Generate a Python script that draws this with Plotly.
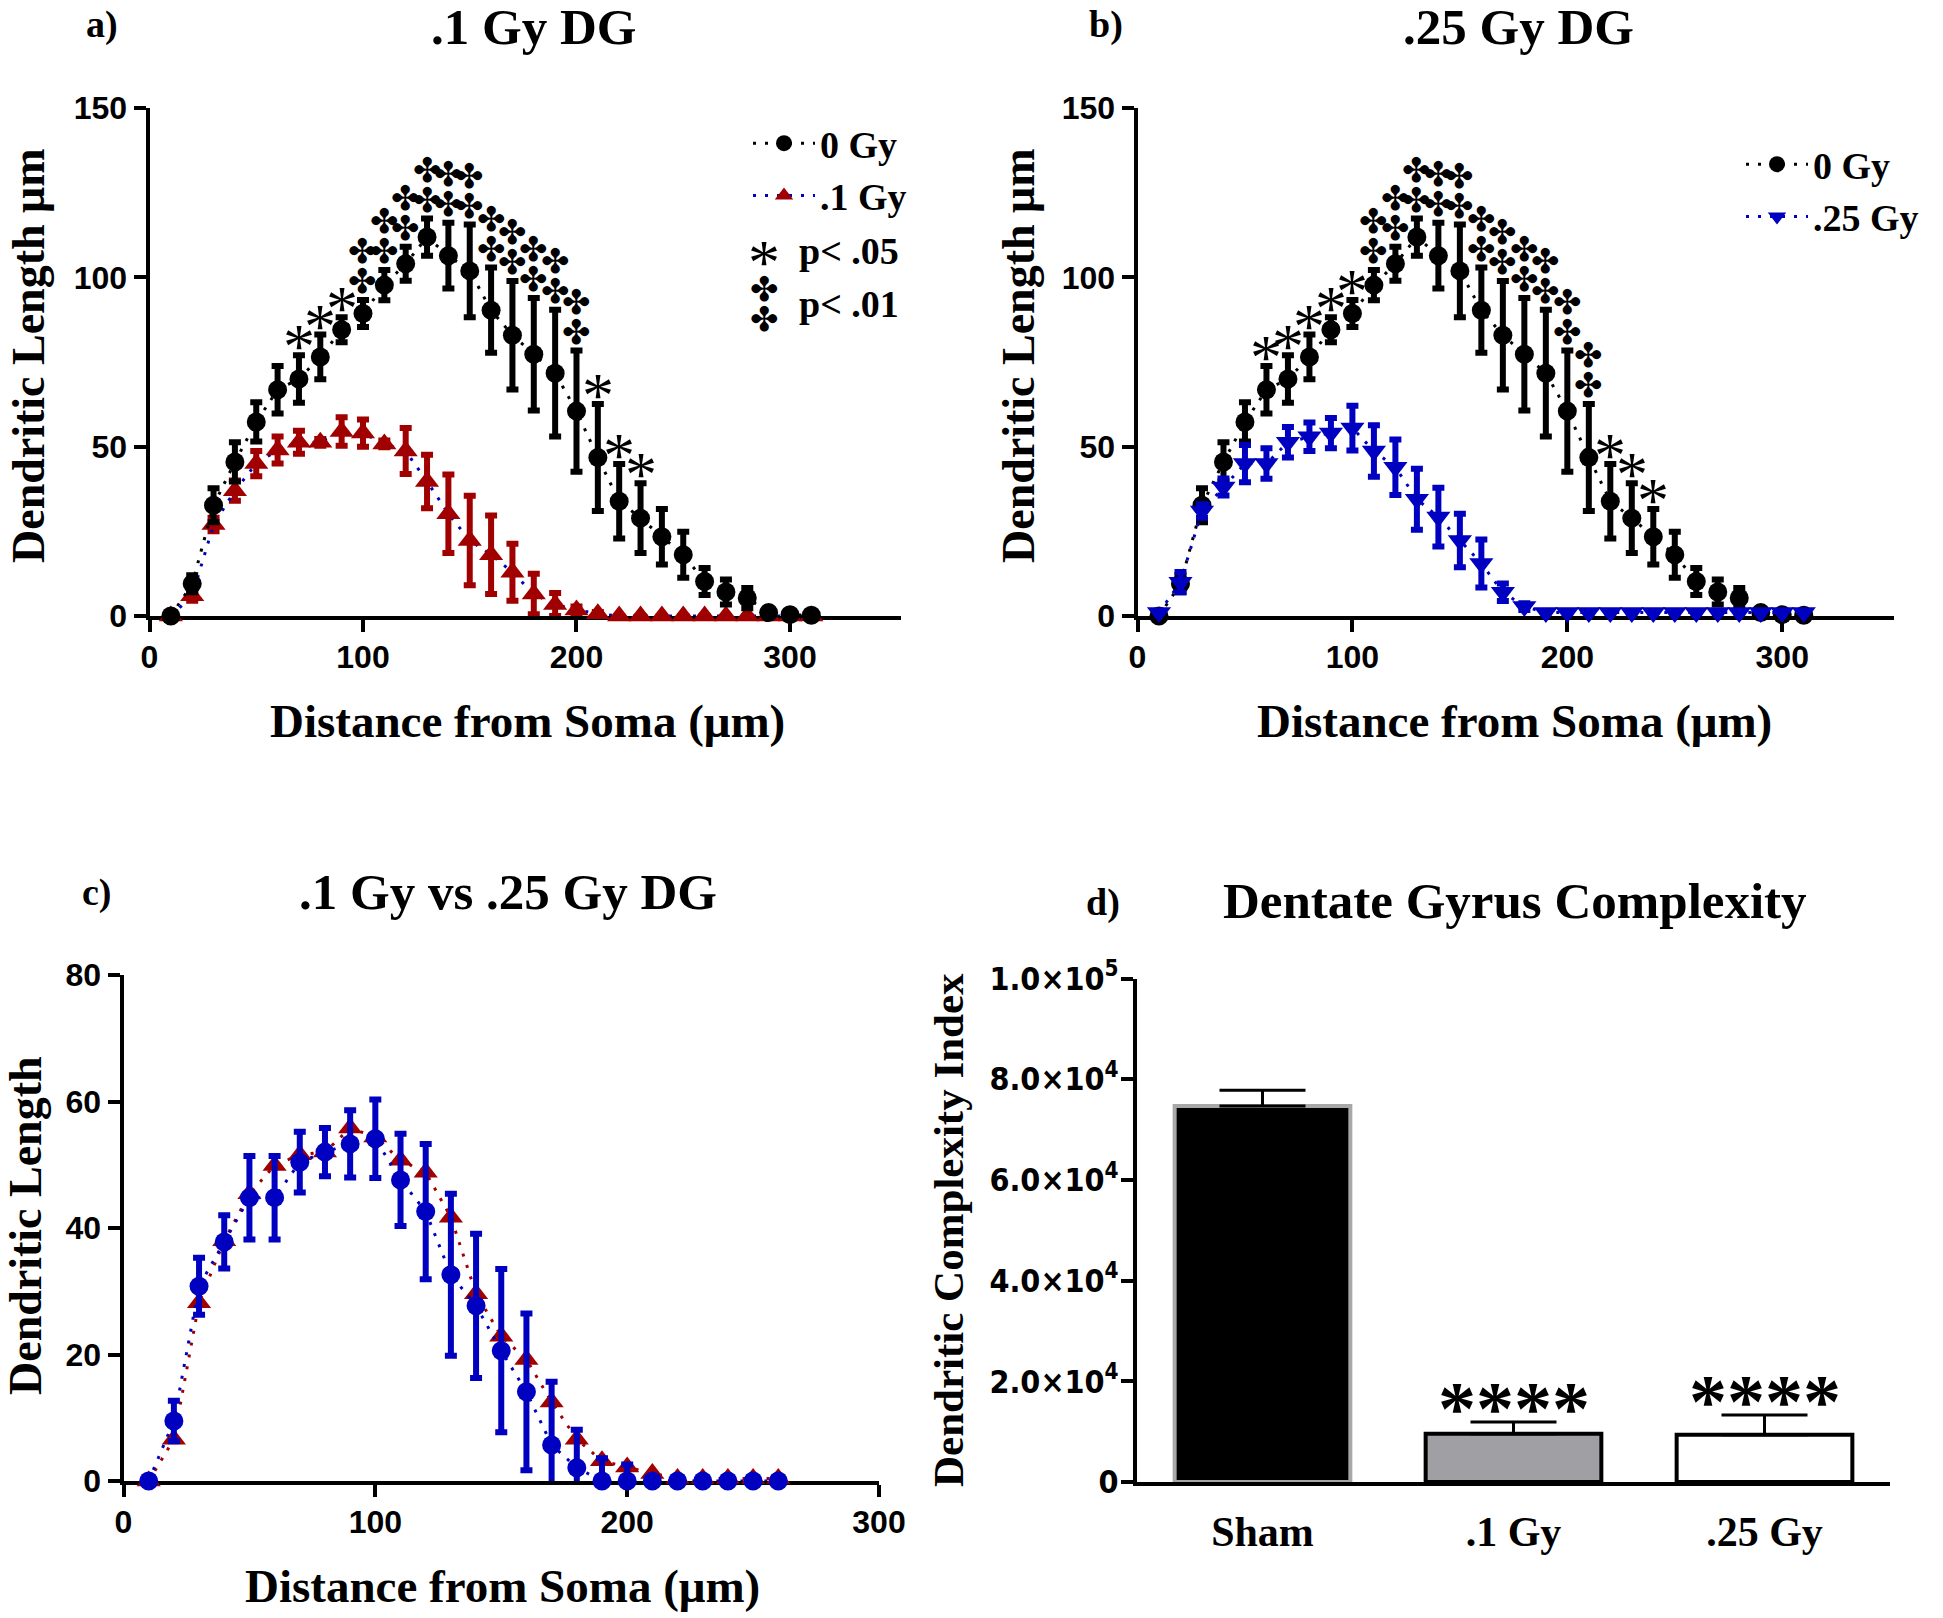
import plotly.graph_objects as go

W, H = 1943, 1618
OFF = 8  # default page margin of the html body

# ---------------- data ----------------
dist_ab = [10, 20, 30, 40, 50, 60, 70, 80, 90, 100, 110, 120, 130, 140, 150, 160,
           170, 180, 190, 200, 210, 220, 230, 240, 250, 260, 270, 280, 290, 300, 310]

ctrl_mean = [0, 9.5, 32.7, 45.5, 57.3, 66.8, 70.0, 76.5, 84.5, 89.3, 97.7, 104.0, 111.9, 106.4,
             101.9, 90.3, 82.9, 77.3, 71.7, 60.5, 46.8, 33.9, 28.9, 23.4, 18.1, 10.2, 7.1, 5.3,
             1.0, 0.4, 0.2]
ctrl_err = [0.5, 2.5, 5.0, 5.8, 5.8, 7.0, 7.0, 6.6, 3.7, 4.0, 4.5, 5.0, 5.5, 9.7, 13.7, 12.6,
            16.0, 16.6, 18.7, 17.9, 15.8, 11.0, 10.3, 8.2, 6.8, 4.0, 3.7, 3.0, 1.0, 0.5, 0.5]

low_a_mean = [0, 6.0, 27.0, 37.0, 45.0, 49.0, 51.3, 51.3, 54.5, 54.0, 50.8, 48.7, 39.7, 30.2,
              22.3, 18.1, 12.9, 6.5, 3.4, 1.8, 0.7, 0, 0, 0, 0, 0, 0, 0, 0, 0, 0]
low_a_err = [0.3, 1.5, 2.0, 3.0, 3.7, 4.0, 3.4, 1.0, 4.2, 4.0, 1.0, 6.8, 7.9, 11.6, 13.2, 11.6,
             8.4, 6.0, 3.4, 1.0, 0.5, 0, 0, 0, 0, 0, 0, 0, 0, 0, 0]

high_b_mean = [1.0, 10.0, 31.0, 38.1, 45.0, 45.0, 51.3, 52.9, 54.0, 55.5, 48.7, 43.9, 34.5, 29.2,
               22.3, 15.5, 7.0, 2.8, 1, 1, 1, 1, 1, 1, 1, 1, 1, 1, 1, 1, 1]
high_b_err = [0.5, 3.0, 2.0, 2.5, 5.5, 4.5, 4.5, 4.2, 4.5, 6.6, 7.6, 8.2, 9.0, 8.7, 7.9, 7.1,
              2.6, 1.0, 0, 0, 0, 0, 0, 0, 0, 0, 0, 0, 0, 0, 0]

sig_a = ["", "", "", "", "", "", "*", "*", "*", "‡", "‡", "‡", "‡", "‡", "‡", "‡",
         "‡", "‡", "‡", "‡", "*", "*", "*", "", "", "", "", "", "", "", ""]
sig_b = ["", "", "", "", "", "*", "*", "*", "*", "*", "‡", "‡", "‡", "‡", "‡", "‡",
         "‡", "‡", "‡", "‡", "‡", "*", "*", "*", "", "", "", "", "", "", ""]

dist_c = [10, 20, 30, 40, 50, 60, 70, 80, 90, 100, 110, 120, 130, 140, 150, 160, 170,
          180, 190, 200, 210, 220, 230, 240, 250, 260]
low_c_mean = [0, 6.6, 28.2, 38.0, 45.4, 49.9, 51.6, 52.0, 55.8, 54.4, 50.7, 48.8, 41.7, 29.6,
              22.9, 19.2, 12.5, 6.6, 3.2, 2.2, 1.2, 0.4, 0.4, 0.4, 0.4, 0.4]
high_c_mean = [0, 9.5, 30.8, 37.8, 44.8, 44.8, 50.4, 52.0, 53.3, 54.1, 47.6, 42.6, 32.6, 27.7,
               20.6, 14.1, 5.7, 2.1, 0, 0, 0, 0, 0, 0, 0, 0]
high_c_err = [0, 3.2, 4.5, 4.2, 6.6, 6.6, 4.8, 3.8, 5.3, 6.2, 7.3, 10.7, 12.8, 11.4, 12.9,
              12.4, 10.0, 6.0, 3.6, 2.6, 0, 0, 0, 0, 0, 0]

groups = ["Sham", ".1 Gy", ".25 Gy"]
dci_mean = [74700, 9600, 9400]
dci_err = [3100, 2300, 3900]
dci_sig = ["", "****", "****"]

# ---------------- styles ----------------
BLACK = "#000000"
RED = "#A00000"
BLUE = "#0000C0"
SERIF = "Liberation Serif, Times New Roman, serif"
SANS = "Liberation Sans, Arial, sans-serif"
DOT = "3px,9px"
CIRC = 19
TRI = 21
ETH = 6
EW = 6
DAG = "✤"


def px_x(p):
    return (p - OFF) / W


def px_y(p):
    return 1 - (p - OFF) / H


fig = go.Figure()

# ----- panel a -----
fig.add_trace(go.Scatter(
    x=dist_ab, y=low_a_mean, name=".1 Gy", legend="legend", legendrank=2,
    mode="lines+markers", cliponaxis=False,
    line=dict(color=BLUE, width=3, dash=DOT),
    marker=dict(symbol="triangle-up", size=TRI, color=RED),
    error_y=dict(type="data", array=low_a_err, color=RED, thickness=ETH, width=EW),
    xaxis="x", yaxis="y"))
fig.add_trace(go.Scatter(
    x=dist_ab, y=ctrl_mean, name="0 Gy", legend="legend", legendrank=1,
    mode="lines+markers", cliponaxis=False,
    line=dict(color=BLACK, width=3, dash=DOT),
    marker=dict(symbol="circle", size=CIRC, color=BLACK),
    error_y=dict(type="data", array=ctrl_err, color=BLACK, thickness=ETH, width=EW),
    xaxis="x", yaxis="y"))

# ----- panel b -----
fig.add_trace(go.Scatter(
    x=dist_ab, y=ctrl_mean, name="0 Gy", legend="legend2", legendrank=1,
    mode="lines+markers", cliponaxis=False,
    line=dict(color=BLACK, width=3, dash=DOT),
    marker=dict(symbol="circle", size=CIRC, color=BLACK),
    error_y=dict(type="data", array=ctrl_err, color=BLACK, thickness=ETH, width=EW),
    xaxis="x2", yaxis="y2"))
fig.add_trace(go.Scatter(
    x=dist_ab, y=high_b_mean, name=".25 Gy", legend="legend2", legendrank=2,
    mode="lines+markers", cliponaxis=False,
    line=dict(color=BLUE, width=3, dash=DOT),
    marker=dict(symbol="triangle-down", size=TRI, color=BLUE),
    error_y=dict(type="data", array=high_b_err, color=BLUE, thickness=ETH, width=EW),
    xaxis="x2", yaxis="y2"))

# ----- panel c -----
fig.add_trace(go.Scatter(
    x=dist_c, y=low_c_mean, name=".1 Gy", showlegend=False,
    mode="lines+markers", cliponaxis=False,
    line=dict(color=RED, width=3, dash=DOT),
    marker=dict(symbol="triangle-up", size=TRI, color=RED),
    xaxis="x3", yaxis="y3"))
fig.add_trace(go.Scatter(
    x=dist_c, y=high_c_mean, name=".25 Gy", showlegend=False,
    mode="lines+markers", cliponaxis=False,
    line=dict(color=BLUE, width=3, dash=DOT),
    marker=dict(symbol="circle", size=CIRC, color=BLUE),
    error_y=dict(type="data", array=high_c_err, color=BLUE, thickness=ETH, width=EW),
    xaxis="x3", yaxis="y3"))

# ----- panel d -----
fig.add_trace(go.Bar(
    x=groups, y=dci_mean, showlegend=False, width=0.70,
    marker=dict(color=["#000000", "#A0A0A4", "#FFFFFF"],
                line=dict(color=["#A8A8A8", "#000000", "#000000"], width=4)),
    error_y=dict(type="data", array=dci_err, arrayminus=[0, 0, 0], symmetric=False,
                 color=BLACK, thickness=3, width=43),
    xaxis="x4", yaxis="y4"))

# ---------------- axes ----------------
common = dict(showgrid=False, zeroline=False, showline=True, linecolor=BLACK, linewidth=4,
              ticks="outside", ticklen=12, tickwidth=4, tickcolor=BLACK, automargin=False,
              tickfont=dict(family=SANS, size=32, color=BLACK, weight="bold"),
              layer="below traces")

fig.update_layout(
    template="none",
    xaxis=dict(common, domain=[px_x(149.5), px_x(901)], range=[0, 352],
               tickvals=[0, 100, 200, 300], anchor="y", ticklabelstandoff=-2),
    yaxis=dict(common, domain=[px_y(616), px_y(108)], range=[0, 150],
               tickvals=[0, 50, 100, 150], anchor="x", ticklabelstandoff=0),
    xaxis2=dict(common, domain=[px_x(1137.5), px_x(1894)], range=[0, 352],
                tickvals=[0, 100, 200, 300], anchor="y2", ticklabelstandoff=-2),
    yaxis2=dict(common, domain=[px_y(616), px_y(108)], range=[0, 150],
                tickvals=[0, 50, 100, 150], anchor="x2", ticklabelstandoff=0),
    xaxis3=dict(common, domain=[px_x(123.5), px_x(879)], range=[0, 300],
                tickvals=[0, 100, 200, 300], anchor="y3", ticklabelstandoff=-2),
    yaxis3=dict(common, domain=[px_y(1481), px_y(975)], range=[0, 80],
                tickvals=[0, 20, 40, 60, 80], anchor="x3", ticklabelstandoff=0),
    xaxis4=dict(common, domain=[px_x(1137), px_x(1890)], range=[-0.5, 2.5], type="category",
                ticks="", ticklabelstandoff=10,
                tickfont=dict(family=SERIF, size=42, color=BLACK, weight="bold"), anchor="y4"),
    yaxis4=dict(common, domain=[px_y(1482), px_y(978.6)], range=[0, 100000],
                tickvals=[0, 20000, 40000, 60000, 80000, 100000], ticklabelstandoff=-4,
                ticktext=["0", "2.0×10<sup>4</sup>", "4.0×10<sup>4</sup>", "6.0×10<sup>4</sup>",
                          "8.0×10<sup>4</sup>", "1.0×10<sup>5</sup>"],
                tickfont=dict(family="Liberation Sans Narrow, DejaVu Sans Condensed, Liberation Sans",
                              size=32, color=BLACK, weight="bold"), anchor="x4"),
)

legend_common = dict(xanchor="left", yanchor="top", bgcolor="rgba(0,0,0,0)",
                     font=dict(family=SERIF, size=38, color=BLACK, weight="bold"),
                     itemwidth=62, tracegroupgap=0)
fig.update_layout(
    legend=dict(legend_common, x=px_x(748), y=px_y(112)),
    legend2=dict(legend_common, x=px_x(1741), y=px_y(133)),
)

# ---------------- annotations ----------------
ann = []


def text(xp, yp, s, size, xanchor="center", family=SERIF, weight="bold", angle=0):
    ann.append(dict(x=px_x(xp), y=px_y(yp), xref="paper", yref="paper", text=s,
                    showarrow=False, xanchor=xanchor, yanchor="middle", textangle=angle,
                    font=dict(family=family, size=size, color=BLACK, weight=weight)))


# panel labels and titles
text(102, 25, "a)", 38)
text(533, 27, ".1 Gy DG", 51)
text(1106, 25, "b)", 38)
text(1518, 27, ".25 Gy DG", 51)
text(97, 892, "c)", 38)
text(508, 892, ".1 Gy vs .25 Gy DG", 51)
text(1103, 902, "d)", 38)
text(1515, 901, "Dentate Gyrus Complexity", 51)

# axis titles
text(527, 721, "Distance from Soma (μm)", 47)
text(1514, 721, "Distance from Soma (μm)", 47)
text(502, 1586, "Distance from Soma (μm)", 47)
text(28, 356, "Dendritic Length μm", 46, angle=-90)
text(1018, 356, "Dendritic Length μm", 46, angle=-90)
text(25, 1226, "Dendritic Length", 46, angle=-90)
text(948, 1230, "Dendritic Complexity Index", 43, angle=-90)

# extra legend rows in panel a
text(764, 251, "*", 64, family=SERIF, weight="normal")
ann[-1]["yshift"] = -12
text(797, 251, "p&lt; .05", 38, xanchor="left")
for shift in (15, -15):
    text(764, 304, DAG, 34, family="DejaVu Sans", weight="normal")
    ann[-1]["yshift"] = shift
text(797, 304, "p&lt; .01", 38, xanchor="left")


def sig_marks(xs, means, errs, sigs, xref, yref):
    for x, m, e, s in zip(xs, means, errs, sigs):
        top = m + e
        if s == "*":
            ann.append(dict(x=x, y=top + 6, xref=xref, yref=yref, text="*", showarrow=False,
                            yshift=-12,
                            font=dict(family=SERIF, size=64, color=BLACK)))
        elif s == "‡":
            for shift in (15, -15):
                ann.append(dict(x=x, y=top + 10, xref=xref, yref=yref, text=DAG,
                                showarrow=False, yshift=shift,
                                font=dict(family="DejaVu Sans", size=34, color=BLACK)))


sig_marks(dist_ab, ctrl_mean, ctrl_err, sig_a, "x", "y")
sig_marks(dist_ab, ctrl_mean, ctrl_err, sig_b, "x2", "y2")

for g, m, e, s in zip(groups, dci_mean, dci_err, dci_sig):
    if s:
        ann.append(dict(x=g, y=m + e + 5500, xref="x4", yref="y4", text=s, showarrow=False,
                        yshift=-14, font=dict(family=SERIF, size=76, color=BLACK, weight="bold")))

fig.update_layout(
    annotations=ann,
    width=W, height=H,
    margin=dict(l=0, r=0, t=0, b=0, autoexpand=False),
    paper_bgcolor="white", plot_bgcolor="white",
    showlegend=True,
)

fig.write_html("out.html")
